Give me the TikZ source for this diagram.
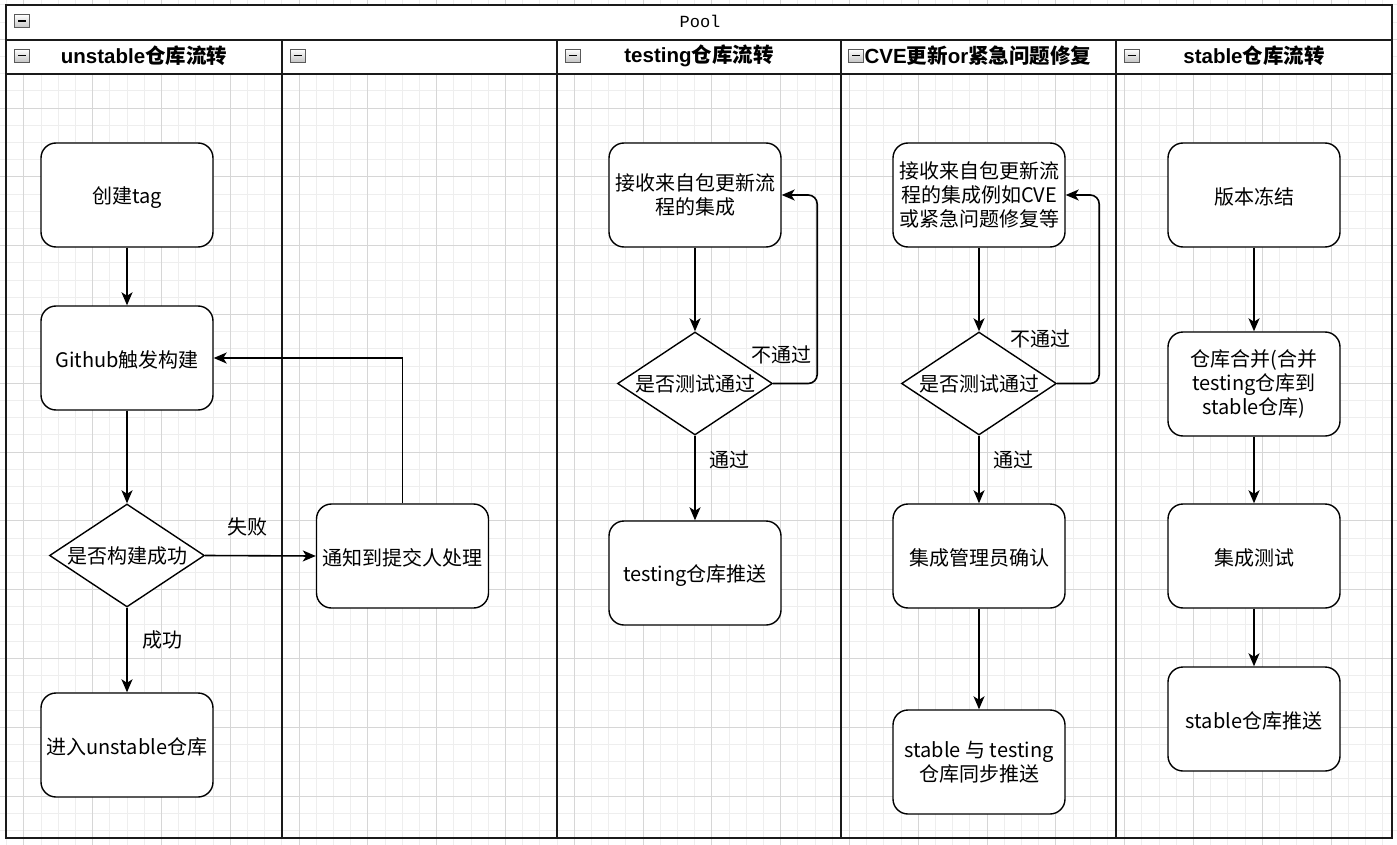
\documentclass[tikz,border=0pt]{standalone}
\usepackage{fontspec}
\setmainfont{Noto Sans CJK SC}
\newfontfamily\lat{Liberation Sans}
\newfontfamily\mono{Liberation Mono}
\usetikzlibrary{shapes.geometric,arrows.meta}
\definecolor{lanec}{HTML}{1A1A1A}
\definecolor{gridminor}{HTML}{EEEEEE}
\definecolor{gridmajor}{HTML}{D6D6D6}
\tikzset{
  box/.style={draw=black, line width=1.4pt, fill=white, rounded corners=15pt,
    minimum width=172pt, minimum height=104pt, inner sep=2pt, align=center,
    font=\fontsize{20}{24}\selectfont, execute at begin node={\rule{0pt}{21.5pt}}},
  dia/.style={draw=black, line width=1.4pt, fill=white, diamond, inner sep=0pt,
    minimum width=155pt, minimum height=103pt, font=\fontsize{20}{24}\selectfont},
  arr/.style={draw=black, line width=1.6pt, -{Stealth[length=13pt,width=11pt,inset=3.5pt]}},
  elabel/.style={font=\fontsize{20}{24}\selectfont, inner sep=0pt},
  hdr/.style={font=\fontsize{20.5}{24}\selectfont\bfseries, inner sep=0pt},
  lane/.style={draw=lanec, line width=2pt},
  minus/.style={draw=gray!70!black, line width=0.8pt, top color=white, bottom color=gray!45,
    minimum width=15pt, minimum height=13pt, inner sep=0pt,
    path picture={\draw[black, line width=1.6pt]
      ([xshift=-4pt]path picture bounding box.center) -- ([xshift=4pt]path picture bounding box.center);}},
}
\begin{document}
\begin{tikzpicture}[x=1pt,y=-1pt]
\useasboundingbox (0,0) rectangle (1397,845);
\fill[white] (0,0) rectangle (1397,845);
% grid
\foreach \i in {0,...,81} { \draw[gridminor, line width=0.9pt] ({6.7+17.2*\i},0) -- ({6.7+17.2*\i},845); }
\foreach \j in {0,...,49} { \draw[gridminor, line width=0.9pt] (0,{4.8+17.2*\j}) -- (1397,{4.8+17.2*\j}); }
\foreach \i in {0,...,20} { \draw[gridmajor, line width=0.9pt] ({23.9+68.8*\i},0) -- ({23.9+68.8*\i},845); }
\foreach \j in {0,...,12} { \draw[gridmajor, line width=0.9pt] (0,{39.2+68.8*\j}) -- (1397,{39.2+68.8*\j}); }
% pool and lane headers
\fill[white] (6,5) rectangle (1392,74);
\draw[lane] (6,5) rectangle (1392,838);
\draw[lane] (6,40) -- (1392,40);
\draw[lane] (6,74) -- (1392,74);
\foreach \x in {282,557,841,1116} { \draw[lane] (\x,40) -- (\x,838); }
\node[font=\mono\fontsize{17}{18}\selectfont, inner sep=0pt] (pooltitle) at (700,21) {Pool};
\node[minus] (m0) at (22,21) {};
\node[minus] (m1) at (22,55.5) {};
\node[minus] (m2) at (297.5,55.5) {};
\node[minus] (m3) at (573,55.5) {};
\node[minus] (m4) at (856,55.5) {};
\node[minus] (m5) at (1131.5,55.5) {};
\node[hdr] (h1) at (144,56) {{\lat\bfseries unstable}仓库流转};
\node[hdr] (h3) at (699,56) {{\lat\bfseries testing}仓库流转};
\node[hdr] (h4) at (978,56) {{\lat\bfseries CVE}更新{\lat\bfseries or}紧急问题修复};
\node[hdr] (h5) at (1254,56) {{\lat\bfseries stable}仓库流转};
% unstable lane
\node[box] (tag) at (127,195) {创建tag};
\node[box] (gh) at (127,358) {Github触发构建};
\node[dia] (d1) at (127,555.5) {\makebox[0pt]{是否构建成功}};
\node[box] (unst) at (127,745) {进入unstable仓库};
\node[box] (notify) at (402.5,556) {通知到提交人处理};
\draw[arr] (tag) -- (gh);
\draw[arr] (gh) -- (d1);
\draw[arr] (d1) -- (unst);
\draw[arr] (d1.east) -- (notify.west);
\draw[arr] (notify.north) |- (gh.east);
\node[elabel] (lfail) at (247,527) {失败};
\node[elabel] (lsucc) at (162,640) {成功};
% testing lane
\node[box] (t1) at (695,195) {接收来自包更新流\\程的集成};
\node[dia] (d2) at (695,383.5) {\makebox[0pt]{是否测试通过}};
\node[box] (t2) at (695,573) {testing仓库推送};
\draw[arr] (t1) -- (d2);
\draw[arr] (d2) -- (t2);
\draw[arr, rounded corners=9pt] (d2.east) -- ++(44,0) |- (t1.east);
\node[elabel] (tno) at (781,355) {不通过};
\node[elabel] (tyes) at (729,460) {通过};
% CVE lane
\node[box] (c1) at (979,195) {接收来自包更新流\\程的集成例如CVE\\或紧急问题修复等};
\node[dia] (d3) at (979,383.5) {\makebox[0pt]{是否测试通过}};
\node[box] (c2) at (979,556) {集成管理员确认};
\node[box] (c3) at (979,762) {stable 与 testing\\仓库同步推送};
\draw[arr] (c1) -- (d3);
\draw[arr] (d3) -- (c2);
\draw[arr] (c2) -- (c3);
\draw[arr, rounded corners=9pt] (d3.east) -- ++(42,0) |- (c1.east);
\node[elabel] (cno) at (1040,339) {不通过};
\node[elabel] (cyes) at (1013,460) {通过};
% stable lane
\node[box] (s1) at (1254,195) {版本冻结};
\node[box] (s2) at (1254,384) {仓库合并(合并\\testing仓库到\\stable仓库)};
\node[box] (s3) at (1254,556) {集成测试};
\node[box] (s4) at (1254,719) {stable仓库推送};
\draw[arr] (s1) -- (s2);
\draw[arr] (s2) -- (s3);
\draw[arr] (s3) -- (s4);
\end{tikzpicture}
\end{document}
